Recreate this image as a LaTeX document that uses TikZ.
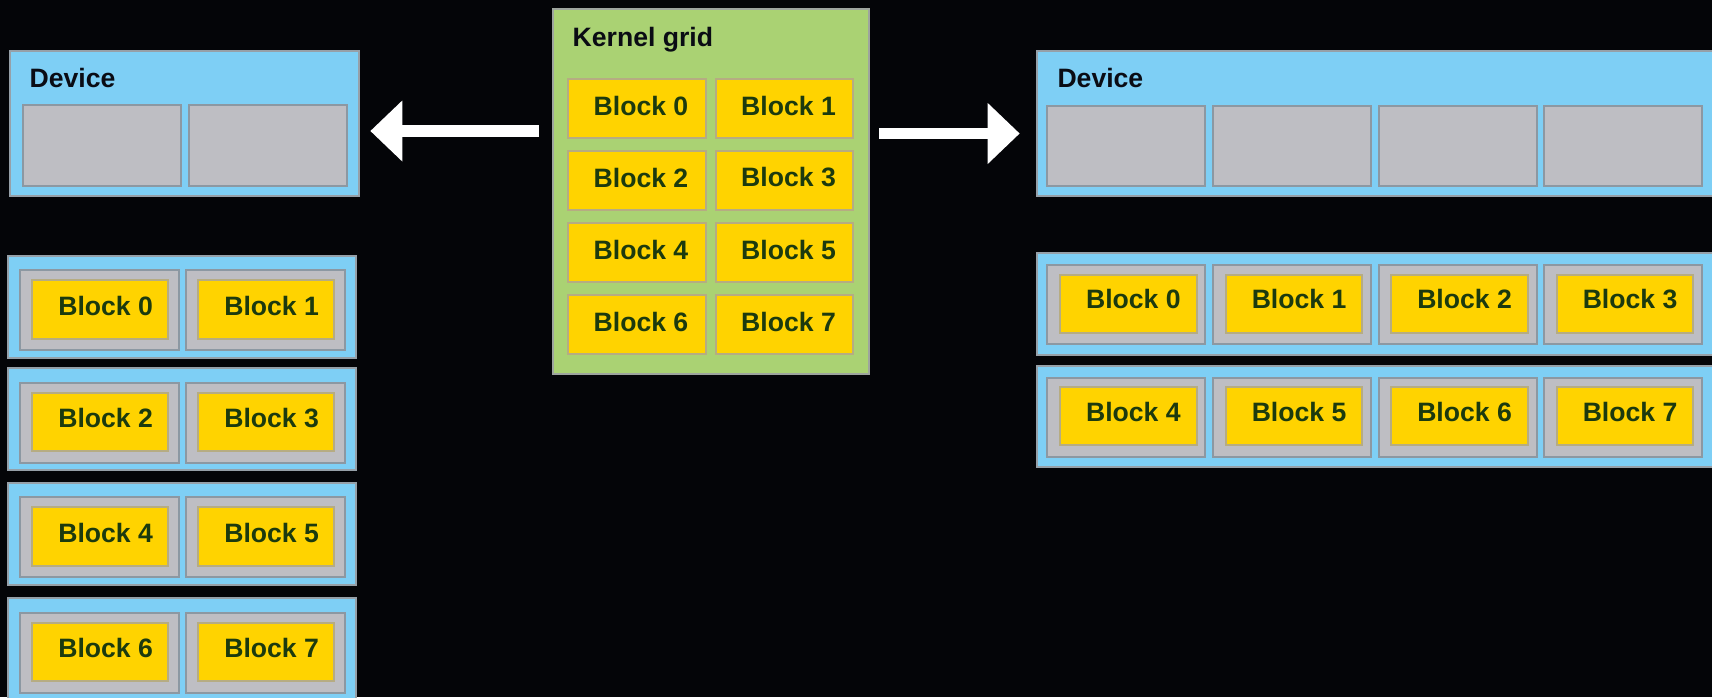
\documentclass[tikz,border=0pt]{standalone}
\usepackage{fontspec}
\setmainfont{Liberation Sans}
\usetikzlibrary{arrows.meta}
\definecolor{bgc}{RGB}{4,5,8}
\definecolor{devblue}{RGB}{126,207,245}
\definecolor{bordblue}{RGB}{150,160,168}
\definecolor{cellgrey}{RGB}{190,190,195}
\definecolor{bordgrey}{RGB}{140,152,162}
\definecolor{blockyel}{RGB}{255,211,0}
\definecolor{bordyel}{RGB}{182,172,130}
\definecolor{gridgreen}{RGB}{170,210,115}
\definecolor{bordgreen}{RGB}{158,165,158}
\definecolor{blocktext}{RGB}{28,58,14}
\definecolor{labeltext}{RGB}{10,12,20}
\newcommand\bigfnt{\fontsize{26.6}{30}\selectfont\bfseries}
\newcommand\bt[3]{\hspace*{#1}\raisebox{#2}[\height][\depth]{#3}}
% \rbox{style}{name}{x1}{y1}{x2}{y2}{text}
\newcommand\rbox[7]{%
  \pgfmathsetmacro\rbw{#5-(#3)}%
  \pgfmathsetmacro\rbh{#6-(#4)}%
  \pgfmathsetmacro\rbx{(#3+#5)/2}%
  \pgfmathsetmacro\rby{(#4+#6)/2}%
  \node[#1, minimum width=\rbw pt, minimum height=\rbh pt] (#2) at (\rbx,\rby) {#7};}
\tikzset{
  bluebox/.style={draw=bordblue, fill=devblue, line width=2pt, inner sep=0pt},
  cellbox/.style={draw=bordgrey, fill=cellgrey, line width=2pt, inner sep=0pt},
  yelbox/.style={draw=bordyel, fill=blockyel, line width=2pt, inner sep=0pt, text=blocktext, font=\bigfnt},
  grnbox/.style={draw=bordgreen, fill=gridgreen, line width=2pt, inner sep=0pt},
  lbl/.style={anchor=base west, inner sep=0pt, text=labeltext, font=\bigfnt},
  bigarrow/.style={draw=white, line width=11.5pt, -{Triangle[length=32pt,width=59pt]}}
}
\begin{document}
\begin{tikzpicture}[x=1pt,y=-1pt]
\path[use as bounding box] (0,0) rectangle (1712,697);
\clip (0,0) rectangle (1712,697);
\fill[bgc] (0,0) rectangle (1712,697);

% ---------- left device ----------
\rbox{bluebox}{dl}{10}{50.7}{359}{195.7}{}
\node[lbl] (dllbl) at (29.4,87.3) {Device};
\rbox{cellbox}{dlc0}{23}{105}{181}{185.7}{}
\rbox{cellbox}{dlc1}{189}{105}{347}{185.7}{}

% ---------- left rows ----------
\foreach \r/\t in {0/255.7,1/368.3,2/482.7,3/598.3} {
  \rbox{bluebox}{lrow\r}{7.5}{\t}{356}{\t+101.8}{}
  \foreach \c/\gx in {0/20,1/186} {
    \pgfmathtruncatemacro\n{2*\r+\c}
    \rbox{cellbox}{lg\n}{\gx}{\t+14.3}{\gx+158.5}{\t+94.3}{}
    \rbox{yelbox}{ly\n}{\gx+11.7}{\t+24.3}{\gx+148}{\t+83}{\bt{11.6pt}{3.8pt}{Block \n}}
  }
}

% ---------- kernel grid ----------
\rbox{grnbox}{kg}{552.7}{9.3}{869.3}{374}{}
\node[lbl] (kglbl) at (572.5,46) {Kernel grid};
\foreach \r/\t in {0/79,1/151,2/223,3/295} {
  \foreach \c/\xa/\xb in {0/568.3/705.7,1/715.7/853.3} {
    \pgfmathtruncatemacro\n{2*\r+\c}
    \rbox{yelbox}{k\n}{\xa}{\t}{\xb}{\t+59}{\bt{8pt}{3pt}{Block \n}}
  }
}

% ---------- right device ----------
\rbox{bluebox}{dr}{1036.7}{50.7}{1725}{195.7}{}
\node[lbl] (drlbl) at (1057.3,87.3) {Device};
\foreach \c/\gx in {0/1047.3,1/1213,2/1378.5,3/1544} {
  \rbox{cellbox}{drc\c}{\gx}{106}{\gx+158}{185.7}{}
}

% ---------- right rows ----------
\foreach \r/\t/\h in {0/253.3/101.7,1/366/100.7} {
  \rbox{bluebox}{rrow\r}{1036.7}{\t}{1725}{\t+\h}{}
  \foreach \c/\gx in {0/1047.3,1/1213,2/1378.5,3/1544} {
    \pgfmathtruncatemacro\n{4*\r+\c}
    \rbox{cellbox}{rg\n}{\gx}{\t+11.5}{\gx+158}{\t+90.5}{}
    \rbox{yelbox}{ry\n}{\gx+12.7}{\t+21.2}{\gx+149.4}{\t+79.2}{\bt{10pt}{4.2pt}{Block \n}}
  }
}

% ---------- arrows ----------
\coordinate (la) at (0,131);
\coordinate (ra) at (0,133.5);
\draw[bigarrow, shorten <=12.7pt, shorten >=10.3pt] (kg.west |- la) -- (dl.east |- la);
\draw[bigarrow, shorten <=9pt, shorten >=16pt] (kg.east |- ra) -- (dr.west |- ra);
\end{tikzpicture}
\end{document}
